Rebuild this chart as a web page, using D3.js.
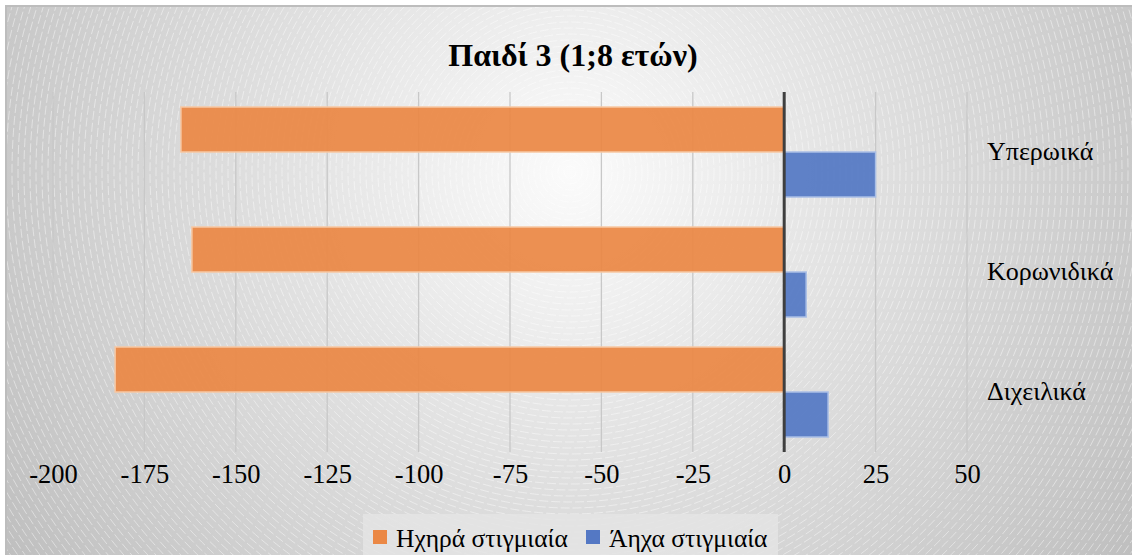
<!DOCTYPE html>
<html>
<head>
<meta charset="utf-8">
<script src="https://cdn.jsdelivr.net/npm/d3@7/dist/d3.min.js"></script>
<style>
  html, body { margin: 0; padding: 0; background: #ffffff; }
  svg { display: block; }
  svg text { font-family: "Liberation Serif", "Times New Roman", Times, serif; fill: #000; }
</style>
</head>
<body>
<svg id="chart" width="1132" height="555"></svg>
<script>
// Categories (top to bottom) and the two series of counts
const categories = ["Υπερωικά", "Κορωνιδικά", "Διχειλικά"];
const seriesNames = ["Ηχηρά στιγμιαία", "Άηχα στιγμιαία"];
const voicedValues = [-165, -162, -183];
const voicelessValues = [25, 6, 12];
const tickValues = [-200, -175, -150, -125, -100, -75, -50, -25, 0, 25, 50];
const titleText = "Παιδί 3 (1;8 ετών)";

const colors = ["#eb8845", "#5478c4"];
const strokes = ["#f7c7a2", "#aabfe6"];

const W = 1132, H = 555;
const CX = 570, CY = 172;
const svg = d3.select("#chart");
const defs = svg.append("defs");

// Soft radial backdrop
const grad = defs.append("radialGradient")
  .attr("id", "bg").attr("gradientUnits", "userSpaceOnUse")
  .attr("cx", CX).attr("cy", CY).attr("r", 700);
[[0, "#fbfbfb"], [0.15, "#f2f2f2"], [0.4, "#e2e2e2"], [0.7, "#d0d0d0"], [1, "#bdbdbd"]]
  .forEach(([o, c]) => grad.append("stop").attr("offset", o).attr("stop-color", c));

defs.append("clipPath").attr("id", "frameClip")
  .append("rect").attr("x", 6).attr("y", 6).attr("width", W).attr("height", H);

svg.append("rect").attr("x", 6).attr("y", 6).attr("width", W).attr("height", H)
  .attr("fill", "url(#bg)");

// Concentric dashed rings texture
const rings = svg.append("g").attr("clip-path", "url(#frameClip)");
rings.selectAll("circle")
  .data(d3.range(6, 760, 6))
  .join("circle")
  .attr("cx", CX).attr("cy", CY).attr("r", d => d)
  .attr("fill", "none")
  .attr("stroke", "#ffffff")
  .attr("stroke-opacity", 0.55)
  .attr("stroke-width", 0.8)
  .attr("stroke-dasharray", "9,3");

// Frame border
svg.append("path")
  .attr("d", `M6,${H + 2} V6 H${W + 2}`)
  .attr("fill", "none").attr("stroke", "#bdbdbd").attr("stroke-width", 2);

// Scales
const x = d3.scaleLinear().domain([-200, 50]).range([53, 967]);
const y = d3.scaleBand().domain(categories).range([92, 452]).paddingInner(0.25).paddingOuter(0.125);
const ySub = d3.scaleBand().domain([0, 1]).range([0, y.bandwidth()]);

// Vertical gridlines
svg.append("g").selectAll("line")
  .data(tickValues.filter(d => d !== 0))
  .join("line")
  .attr("x1", d => x(d)).attr("x2", d => x(d))
  .attr("y1", 92).attr("y2", 452)
  .attr("stroke", "#c8c8c8").attr("stroke-width", 1.3);

// Bars (slightly translucent, gridlines show through)
const rows = categories.map((c, i) => ({ cat: c, vals: [voicedValues[i], voicelessValues[i]] }));
const barG = svg.append("g");
rows.forEach(r => {
  r.vals.forEach((v, s) => {
    barG.append("rect")
      .attr("x", Math.min(x(0), x(v)))
      .attr("y", y(r.cat) + ySub(s))
      .attr("width", Math.abs(x(v) - x(0)))
      .attr("height", ySub.bandwidth())
      .attr("fill", colors[s])
      .attr("fill-opacity", 0.93)
      .attr("stroke", strokes[s])
      .attr("stroke-width", 1.5);
  });
});

// Zero line
svg.append("line")
  .attr("x1", x(0)).attr("x2", x(0)).attr("y1", 92).attr("y2", 452)
  .attr("stroke", "#3f3f3f").attr("stroke-width", 3);

// X axis tick labels (plain hyphen for negatives)
const xAxis = d3.axisBottom(x).tickValues(tickValues).tickSize(0).tickPadding(0)
  .tickFormat(d => String(d));
const axG = svg.append("g").attr("transform", "translate(0,464)").call(xAxis);
axG.select(".domain").remove();
axG.attr("font-family", null).attr("font-size", null);
axG.selectAll("text")
  .attr("dy", "0.71em")
  .attr("font-size", 26.5);

// Category labels on the right
const yAxis = d3.axisRight(y).tickSize(0).tickPadding(0);
const yG = svg.append("g").attr("transform", "translate(987,0)").call(yAxis);
yG.select(".domain").remove();
yG.attr("font-family", null).attr("font-size", null);
yG.selectAll("text")
  .attr("font-size", 26)
  .attr("text-anchor", "start");

// Title
svg.append("text")
  .attr("x", 573).attr("y", 66)
  .attr("text-anchor", "middle")
  .attr("font-weight", "bold").attr("font-size", 32)
  .text(titleText);

// Legend
const lg = svg.append("g");
lg.append("rect").attr("x", 363).attr("y", 514).attr("width", 415).attr("height", 45)
  .attr("fill", "#e4e4e4").attr("fill-opacity", 0.85);
const legendX = [373, 586];
seriesNames.forEach((n, i) => {
  lg.append("rect").attr("x", legendX[i]).attr("y", 530).attr("width", 14).attr("height", 14)
    .attr("fill", colors[i]);
  lg.append("text").attr("x", legendX[i] + 23).attr("y", 547)
    .attr("font-size", 25.5)
    .text(n);
});
</script>
</body>
</html>
